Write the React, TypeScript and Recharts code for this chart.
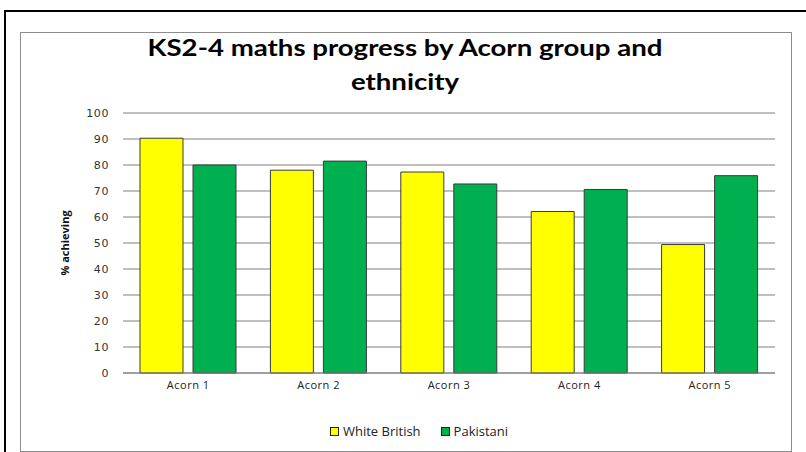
import React from "react";
import { BarChart, Bar, XAxis, YAxis, CartesianGrid, Legend } from "recharts";

const groups = ["Acorn 1", "Acorn 2", "Acorn 3", "Acorn 4", "Acorn 5"];
const whiteBritish = [90.3, 78.0, 77.3, 62.1, 49.4];
const pakistani = [80.0, 81.5, 72.7, 70.6, 75.9];
const yTicks = [0, 10, 20, 30, 40, 50, 60, 70, 80, 90, 100];
const seriesOrder = ["White British", "Pakistani"];

const data = groups.map((g, i) => ({
  group: g,
  wb: whiteBritish[i],
  pk: pakistani[i],
}));

const labelFont = "'Open Sans', 'Liberation Sans', sans-serif";

// boxed swatches like a spreadsheet legend
function renderLegend(props: any) {
  const items = [...(props.payload || [])].sort(
    (a: any, b: any) => seriesOrder.indexOf(a.value) - seriesOrder.indexOf(b.value)
  );
  return (
    <div
      style={{
        display: "flex",
        justifyContent: "center",
        gap: 20,
        fontFamily: labelFont,
        fontSize: 13,
        color: "#222",
        lineHeight: "18px",
      }}
    >
      {items.map((it: any) => (
        <span key={it.value} style={{ display: "inline-flex", alignItems: "center" }}>
          <span
            style={{
              display: "inline-block",
              width: 7,
              height: 7,
              background: it.color,
              border: "1px solid #222",
              marginRight: 4,
            }}
          />
          {it.value}
        </span>
      ))}
    </div>
  );
}

export default function App() {
  return (
    <div
      style={{
        position: "absolute",
        left: 0,
        top: 0,
        width: 806,
        height: 452,
        background: "#fff",
        overflow: "hidden",
      }}
    >
      {/* outer frame */}
      <div
        style={{
          position: "absolute",
          left: 4,
          top: 10,
          width: 840,
          height: 480,
          border: "2px solid #000",
        }}
      />
      {/* chart area border */}
      <div
        style={{
          position: "absolute",
          left: 20,
          top: 32,
          width: 770,
          height: 418,
          border: "1px solid #8c8c8c",
        }}
      />
      <div
        style={{
          position: "absolute",
          left: 0,
          top: 30,
          width: 810,
          textAlign: "center",
          fontFamily: "Lato, 'Open Sans', sans-serif",
          fontWeight: 700,
          fontSize: 23,
          lineHeight: "34px",
          color: "#000",
          transform: "scaleX(1.2)",
          transformOrigin: "405px 0",
        }}
      >
        KS2-4 maths progress by Acorn group and
        <br />
        ethnicity
      </div>
      <div style={{ position: "absolute", left: 0, top: 0 }}>
        <BarChart
          width={806}
          height={452}
          data={data}
          margin={{ top: 113, right: 31, bottom: 10, left: 63 }}
          barSize={43}
          barGap={10}
        >
          <CartesianGrid vertical={false} stroke="#808080" strokeWidth={1} />
          <YAxis
            domain={[0, 100]}
            ticks={yTicks}
            interval={0}
            axisLine={false}
            tickLine={false}
            width={60}
            tickMargin={8}
            tick={{ fontSize: 11, fill: "#333", fontFamily: "'DejaVu Sans', sans-serif", letterSpacing: 0.6 }}
            label={{
              value: "% achieving",
              angle: -90,
              position: "insideLeft",
              offset: 2,
              style: { fontSize: 11, fontWeight: 700, fill: "#111", fontFamily: labelFont, textAnchor: "middle" },
            }}
          />
          <XAxis
            dataKey="group"
            axisLine={{ stroke: "#808080" }}
            tickLine={false}
            tickMargin={2}
            height={49}
            tick={{ fontSize: 11, fill: "#222", fontFamily: labelFont, letterSpacing: 0.5 }}
          />
          <Legend verticalAlign="bottom" height={20} content={renderLegend} />
          <Bar
            dataKey="wb"
            name="White British"
            fill="#FFFF00"
            stroke="#3a3a3a"
            strokeWidth={1}
            isAnimationActive={false}
          />
          <Bar
            dataKey="pk"
            name="Pakistani"
            fill="#00B050"
            stroke="#3a3a3a"
            strokeWidth={1}
            isAnimationActive={false}
          />
        </BarChart>
      </div>
    </div>
  );
}
